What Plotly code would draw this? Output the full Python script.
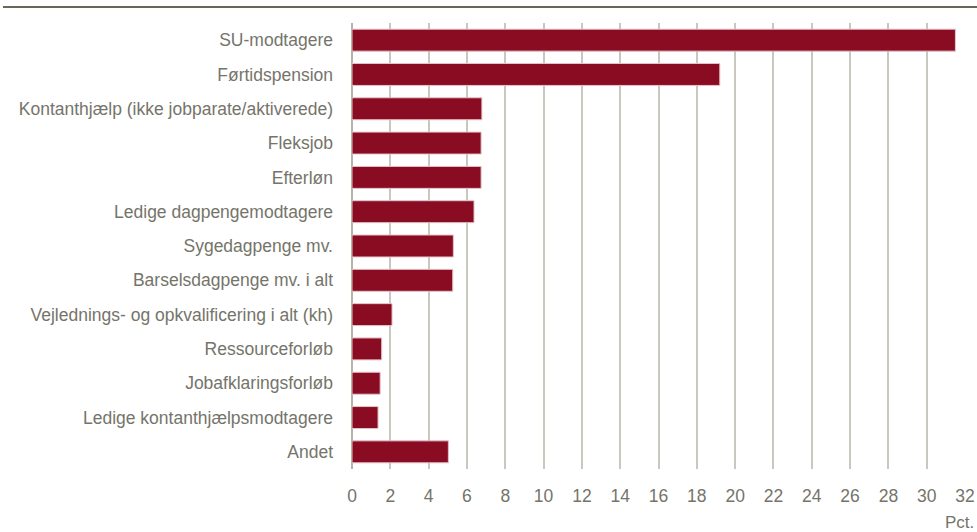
import plotly.graph_objects as go

categories = [
    "SU-modtagere",
    "Førtidspension",
    "Kontanthjælp (ikke jobparate/aktiverede)",
    "Fleksjob",
    "Efterløn",
    "Ledige dagpengemodtagere",
    "Sygedagpenge mv.",
    "Barselsdagpenge mv. i alt",
    "Vejlednings- og opkvalificering i alt (kh)",
    "Ressourceforløb",
    "Jobafklaringsforløb",
    "Ledige kontanthjælpsmodtagere",
    "Andet",
]
values = [31.5, 19.2, 6.78, 6.74, 6.74, 6.37, 5.29, 5.26, 2.09, 1.55, 1.47, 1.36, 5.03]
tick_vals = list(range(0, 33, 2))
unit_label = "Pct."

text_color = "#75746a"
font_family = "Liberation Sans, Arial, sans-serif"

fig = go.Figure(
    go.Bar(
        x=values,
        y=categories,
        orientation="h",
        width=0.64,
        marker=dict(color="#8a0c22", line=dict(color="#e3c3c8", width=1)),
    )
)

W, H = 977, 532
L, R, T, B = 352, 12, 23, 63
pw = W - L - R
ph = H - T - B

fig.update_layout(
    width=W,
    height=H,
    margin=dict(l=L, r=R, t=T, b=B, autoexpand=False),
    plot_bgcolor="white",
    paper_bgcolor="white",
    showlegend=False,
    font=dict(family=font_family, size=17, color=text_color),
    xaxis=dict(
        range=[0, 32],
        tickvals=tick_vals,
        automargin=False,
        showgrid=True,
        gridcolor="#cac8bd",
        gridwidth=1.5,
        zeroline=True,
        zerolinecolor="#b5b3a6",
        zerolinewidth=1.5,
        showline=False,
        ticks="",
        tickfont=dict(size=17.5, color=text_color),
        ticklabelstandoff=14,
    ),
    yaxis=dict(
        categoryorder="array",
        categoryarray=categories[::-1],
        range=[-0.5, 12.5],
        automargin=False,
        showgrid=False,
        zeroline=False,
        ticks="",
        tickfont=dict(size=17.5, color=text_color),
        ticklabelstandoff=18,
    ),
    shapes=[
        dict(
            type="line",
            xref="paper",
            yref="paper",
            x0=(3 - L) / pw,
            x1=(W - L) / pw,
            y0=(H - B - 7) / ph,
            y1=(H - B - 7) / ph,
            line=dict(color="#6b6756", width=2),
        )
    ],
    annotations=[
        dict(
            text=unit_label,
            xref="paper",
            yref="paper",
            x=(976 - L) / pw,
            y=(H - B - 522) / ph,
            xanchor="right",
            yanchor="middle",
            showarrow=False,
            font=dict(size=17, color=text_color),
        )
    ],
)

fig.write_html(
    "out.html",
    config={"displayModeBar": False},
    post_script="document.body.style.margin='0';document.body.style.padding='0';",
)
